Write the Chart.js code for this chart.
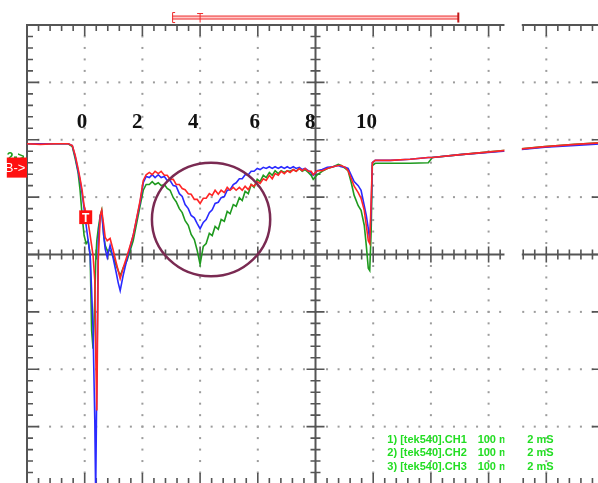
<!DOCTYPE html>
<html>
<head>
<meta charset="utf-8">
<style>
  html, body { margin: 0; padding: 0; background: #fff; overflow: hidden; }
  canvas { display: block; }
</style>
<script src="https://cdn.jsdelivr.net/npm/chart.js@4/dist/chart.umd.min.js"></script>
</head>
<body>
<canvas id="scope" width="606" height="487"></canvas>
<script>
// time base (ms) shared by the three channels
const timeMs = [
  -2.00, -1.54, -1.02, -0.57, -0.43, -0.33, -0.23, -0.16, -0.09, -0.02,
  0.05, 0.12, 0.19, 0.24, 0.29, 0.35, 0.38, 0.42, 0.47, 0.54,
  0.59, 0.66, 0.71, 0.78, 0.88, 0.99, 1.09, 1.16, 1.23, 1.33,
  1.47, 1.68, 1.92,
  2.03, 2.13, 2.24, 2.34, 2.44, 2.55, 2.65, 2.76, 2.86, 2.96,
  3.07, 3.17, 3.28, 3.38, 3.48, 3.59, 3.69, 3.80, 3.90, 4.00,
  4.11, 4.21, 4.32, 4.42, 4.52, 4.63, 4.73, 4.84, 4.94, 5.04,
  5.15, 5.25, 5.36, 5.46, 5.56, 5.67, 5.77, 5.87, 5.98, 6.08,
  6.19, 6.29, 6.40, 6.50, 6.60, 6.71, 6.81, 6.92, 7.02, 7.12,
  7.23, 7.33, 7.44, 7.54, 7.64, 7.75, 7.85, 7.92,
  8.06, 8.23, 8.41, 8.61, 8.79, 8.89, 9.03, 9.13, 9.24, 9.34,
  9.48, 9.58, 9.69, 9.76, 9.83, 9.88, 9.93, 9.97, 10.07, 10.59,
  11.28, 11.91, 12.05, 13.02, 14.51, 15.96, 17.00, 18.00
];

// mV
const chRed = [
  193, 192, 193, 193, 190, 173, 150, 132, 112, 85,
  71, 56, 33, 16, -2, -45, -167, -272, -10, 68,
  77, 51, 30, 24, 28, 7, -14, -28, -42, -24,
  -2, 33, 94,
  129, 139, 143, 139, 145, 141, 145, 138, 138, 131,
  131, 122, 122, 115, 113, 106, 105, 96, 96, 89,
  98, 98, 106, 103, 112, 105, 112, 108, 117, 112,
  117, 112, 117, 112, 119, 113, 122, 119, 127, 124,
  132, 129, 138, 132, 141, 138, 145, 141, 146, 143,
  148, 145, 150, 146, 150, 145, 145, 139,
  146, 146, 150, 153, 155, 155, 152, 146, 132, 119,
  108, 98, 77, 51, 24, 19, 94, 160, 164, 164,
  166, 169, 169, 174, 181, 188, 192, 195
];

const chBlue = [
  193, 193, 193, 193, 190, 171, 146, 129, 106, 80,
  51, 24, -2, -63, -132, -289, -420, -220, 24, 68,
  73, 33, 10, -5, 16, -7, -31, -49, -63, -37,
  -7, 33, 91,
  125, 136, 134, 139, 134, 139, 134, 136, 129, 129,
  120, 119, 106, 101, 87, 80, 68, 64, 54, 45,
  56, 61, 73, 78, 89, 91, 99, 101, 112, 113,
  122, 125, 132, 132, 139, 139, 145, 145, 150, 148,
  152, 150, 153, 150, 153, 150, 153, 150, 153, 150,
  153, 150, 152, 148, 150, 146, 143, 138,
  146, 148, 152, 153, 155, 153, 152, 150, 138, 127,
  120, 112, 85, 68, 45, 24, 77, 160, 164, 164,
  166, 169, 169, 174, 180, 187, 190, 193
];

const chGreen = [
  193, 193, 193, 193, 188, 167, 143, 112, 68, 33,
  19, 24, -2, -132, -164, -80, -14, 24, 45, 68,
  77, 33, 16, 7, 7, -3, -19, -28, -37, -24,
  -10, 24, 85,
  112, 122, 122, 127, 122, 125, 120, 122, 115, 112,
  99, 92, 80, 73, 59, 51, 35, 26, 7, -17,
  14, 19, 37, 33, 49, 44, 61, 58, 75, 71,
  87, 84, 99, 94, 110, 106, 122, 117, 131, 127,
  138, 134, 143, 138, 146, 141, 146, 143, 146, 145,
  148, 145, 150, 145, 148, 143, 138, 131,
  139, 145, 150, 153, 157, 155, 150, 146, 125, 103,
  85, 77, 51, 16, -24, -28, 42, 155, 159, 159,
  159, 160, 169, 174, 181, 188, 192, 195
];

// screen: 10 x 8 divisions, 2 ms/div, 100 mV/div
const timeMin = -2, timeMax = 18, timeDiv = 2;
const mvMin = -400, mvMax = 400, mvDiv = 100;

// hand-written numbers over the traces
const markerLabels = ['0', '2', '4', '6', '8', '10'];
const markerTimes = [-0.09, 1.82, 3.76, 5.89, 7.82, 9.77];
const markerLevel = 220;

// circled area
const ringCenter = [4.38, 61];
const ringRadius = [2.05, 99];

const legendNames = ['1) [tek540].CH1', '2) [tek540].CH2', '3) [tek540].CH3'];
const legendScale = '100 mV';
const legendSweep = '2 mS';

function pts(values) {
  return timeMs.map((t, i) => ({ x: t, y: values[i] }));
}

const scopeGrid = {
  id: 'scopeGrid',
  beforeDatasetsDraw(chart) {
    const { ctx, chartArea: a, scales: { x, y } } = chart;
    const nx = (timeMax - timeMin) / timeDiv;
    const ny = (mvMax - mvMin) / mvDiv;
    const xAt = i => x.getPixelForValue(timeMin + i * timeDiv / 5);
    const yAt = j => y.getPixelForValue(mvMax - j * mvDiv / 5);
    const xc = x.getPixelForValue(timeMin + nx / 2 * timeDiv);
    const yc = y.getPixelForValue(0);
    ctx.save();

    // dotted graticule
    ctx.fillStyle = '#9c9c9c';
    for (let i = 1; i < nx; i++) {
      if (i === nx / 2) continue;
      const px = xAt(i * 5);
      for (let j = 1; j < ny * 5; j++) ctx.fillRect(px - 1, yAt(j) - 1, 2, 2);
    }
    for (let j = 1; j < ny; j++) {
      if (j === ny / 2) continue;
      const py = yAt(j * 5);
      for (let i = 1; i < nx * 5; i++) ctx.fillRect(xAt(i) - 1, py - 1, 2, 2);
    }

    ctx.strokeStyle = '#555';
    ctx.lineWidth = 2;
    ctx.beginPath();
    ctx.moveTo(a.left, a.bottom); ctx.lineTo(a.left, a.top); ctx.lineTo(a.right, a.top);
    ctx.lineTo(a.right, a.bottom); ctx.lineTo(a.left, a.bottom);
    ctx.moveTo(xc, a.top); ctx.lineTo(xc, a.bottom);
    ctx.moveTo(a.left, yc); ctx.lineTo(a.right, yc);
    ctx.stroke();

    ctx.lineWidth = 1.6;
    ctx.beginPath();
    for (let i = 1; i < nx * 5; i++) {
      const px = xAt(i);
      const major = i % 5 === 0;
      const len = major ? 11 : 6;
      ctx.moveTo(px, a.top); ctx.lineTo(px, a.top + len);
      ctx.moveTo(px, a.bottom); ctx.lineTo(px, a.bottom - len);
      const h = i === nx * 5 / 2 ? 12 : (major ? 8 : 5);
      ctx.moveTo(px, yc - h); ctx.lineTo(px, yc + h);
    }
    for (let j = 1; j < ny * 5; j++) {
      const py = yAt(j);
      const major = j % 5 === 0;
      const len = major ? 12 : 6;
      ctx.moveTo(a.left, py); ctx.lineTo(a.left + len, py);
      ctx.moveTo(a.right, py); ctx.lineTo(a.right - len, py);
      const h = j === ny * 5 / 2 ? 12 : (major ? 9 : 5);
      ctx.moveTo(xc - h, py); ctx.lineTo(xc + h, py);
    }
    ctx.stroke();
    ctx.restore();
  },
  afterDraw(chart) {
    const { ctx, scales: { x, y } } = chart;
    ctx.save();

    // numbers
    ctx.fillStyle = '#111';
    ctx.font = 'bold 21px "Liberation Serif", "DejaVu Serif", serif';
    ctx.textAlign = 'center';
    ctx.textBaseline = 'alphabetic';
    markerLabels.forEach((s, i) => ctx.fillText(s, x.getPixelForValue(markerTimes[i]), y.getPixelForValue(markerLevel)));

    // circle
    const cx = x.getPixelForValue(ringCenter[0]);
    const cy = y.getPixelForValue(ringCenter[1]);
    const rx = x.getPixelForValue(ringCenter[0] + ringRadius[0]) - cx;
    const ry = cy - y.getPixelForValue(ringCenter[1] + ringRadius[1]);
    ctx.strokeStyle = '#7a2a52';
    ctx.lineWidth = 2.5;
    ctx.beginPath();
    ctx.ellipse(cx, cy, rx, ry, 0, 0, Math.PI * 2);
    ctx.stroke();

    // record / trigger bar above the screen
    const bx0 = x.getPixelForValue(3.03), bx1 = x.getPixelForValue(12.95), bt = x.getPixelForValue(4.0);
    const by = y.getPixelForValue(413);
    ctx.fillStyle = '#ffc8c8';
    ctx.fillRect(bx0, by - 1.5, bx1 - bx0, 3);
    ctx.strokeStyle = '#ee2b2b';
    ctx.lineWidth = 1;
    ctx.beginPath();
    ctx.moveTo(bx0, by - 1.5); ctx.lineTo(bx1, by - 1.5);
    ctx.moveTo(bx0, by + 1.5); ctx.lineTo(bx1, by + 1.5);
    ctx.moveTo(bx0 + 0.5, by - 5); ctx.lineTo(bx0 + 0.5, by + 5);
    ctx.moveTo(bx0 + 0.5, by - 5); ctx.lineTo(bx0 + 3, by - 5);
    ctx.moveTo(bx0 + 0.5, by + 5); ctx.lineTo(bx0 + 3, by + 5);
    ctx.moveTo(bt, by - 4); ctx.lineTo(bt, by + 5);
    ctx.moveTo(bt - 3, by - 4); ctx.lineTo(bt + 3, by - 4);
    ctx.stroke();
    ctx.strokeStyle = '#c01818';
    ctx.lineWidth = 2;
    ctx.beginPath();
    ctx.moveTo(bx1, by - 5); ctx.lineTo(bx1, by + 5);
    ctx.stroke();

    // channel marker on the left
    const mx0 = x.getPixelForValue(-2.7), mx1 = x.getPixelForValue(-2.0);
    const my0 = y.getPixelForValue(169), my1 = y.getPixelForValue(134);
    ctx.fillStyle = '#1ea01e';
    ctx.font = 'bold 12px "Liberation Sans", Arial, sans-serif';
    ctx.textAlign = 'left';
    ctx.textBaseline = 'top';
    ctx.fillText('2->', mx0, my0 - 6);
    ctx.fillStyle = '#ff1010';
    ctx.fillRect(mx0, my0, mx1 - mx0, my1 - my0);
    ctx.fillStyle = '#fff';
    ctx.font = '13px "Liberation Sans", Arial, sans-serif';
    ctx.textBaseline = 'middle';
    ctx.fillText('B->', mx0 - 2, (my0 + my1) / 2 + 1);

    // trigger marker
    const tx0 = x.getPixelForValue(-0.19), tx1 = x.getPixelForValue(0.26);
    const ty0 = y.getPixelForValue(77), ty1 = y.getPixelForValue(53);
    ctx.fillStyle = '#ff1010';
    ctx.fillRect(tx0, ty0, tx1 - tx0, ty1 - ty0);
    ctx.fillStyle = '#fff';
    ctx.font = 'bold 12px "Liberation Sans", Arial, sans-serif';
    ctx.textAlign = 'center';
    ctx.fillText('T', (tx0 + tx1) / 2, (ty0 + ty1) / 2 + 1);

    // channel settings
    ctx.fillStyle = '#22dd22';
    ctx.font = 'bold 11px "Liberation Sans", Arial, sans-serif';
    ctx.textAlign = 'left';
    ctx.textBaseline = 'alphabetic';
    const lx = x.getPixelForValue(10.49), vx = x.getPixelForValue(13.62), sx = x.getPixelForValue(15.34);
    legendNames.forEach((s, i) => {
      const ly = y.getPixelForValue(-328 - i * 24);
      ctx.fillText(s, lx, ly);
      ctx.fillText(legendScale, vx, ly);
      ctx.fillText(legendSweep, sx, ly);
    });

    // blank strip cut out of the screen
    const gx0 = x.getPixelForValue(14.55), gx1 = x.getPixelForValue(15.15);
    ctx.fillStyle = '#fff';
    ctx.fillRect(gx0, 0, gx1 - gx0, chart.height);
    ctx.restore();
  }
};

new Chart(document.getElementById('scope'), {
  type: 'line',
  data: {
    datasets: [
      { label: 'CH1', data: pts(chRed), borderColor: '#ff2626' },
      { label: 'CH2', data: pts(chBlue), borderColor: '#2a2aff' },
      { label: 'CH3', data: pts(chGreen), borderColor: '#1f9a1f' }
    ]
  },
  options: {
    responsive: false,
    animation: false,
    parsing: false,
    layout: { padding: { left: 27, top: 25, right: 2, bottom: 3 } },
    elements: {
      line: { borderWidth: 1.6, tension: 0 },
      point: { radius: 0 }
    },
    scales: {
      x: { type: 'linear', min: timeMin, max: timeMax, display: false },
      y: { type: 'linear', min: mvMin, max: mvMax, display: false }
    },
    plugins: {
      legend: { display: false },
      tooltip: { enabled: false }
    }
  },
  plugins: [scopeGrid]
});
</script>
</body>
</html>
